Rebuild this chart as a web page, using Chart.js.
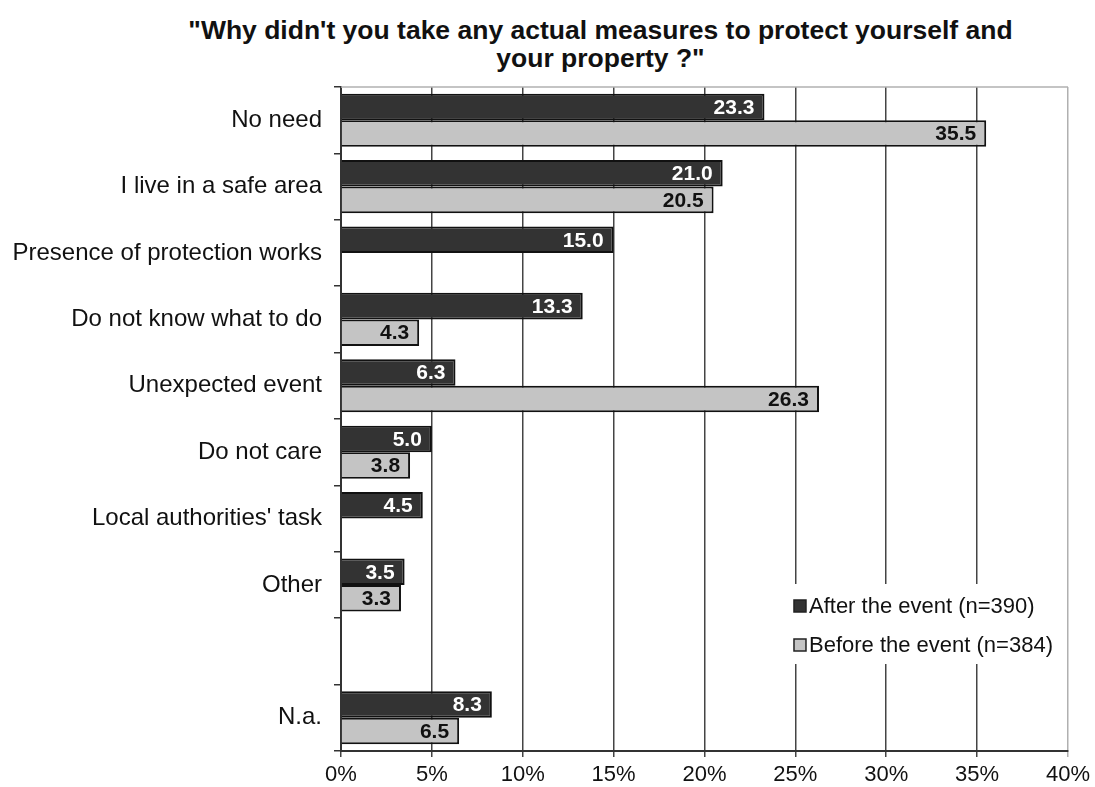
<!DOCTYPE html>
<html lang="en">
<head>
<meta charset="UTF-8"/>
<title>Why didn't you take any actual measures</title>
<script src="https://cdn.jsdelivr.net/npm/chart.js@4.4.3/dist/chart.umd.min.js"></script>
<style>
  *{box-sizing:border-box;margin:0;padding:0}
  body{background:#fff;font-family:'Liberation Sans',Arial,sans-serif}
  .wrap{position:relative;width:1095px;height:787px}
  .title{position:absolute;top:16px;left:106px;right:0;text-align:center;font-weight:bold;font-size:26.5px;line-height:28px;color:#111}
  canvas{position:absolute;left:0;top:0}
</style>
</head>
<body>
<div class="wrap">
  <div class="title">"Why didn't you take any actual measures to protect yourself and<br>your property ?"</div>
  <canvas id="c" width="1095" height="787"></canvas>
</div>
<script>
// ─── Data ─────────────────────────────────────────────────────────────────────
const categories = [
  'No need',
  'I live in a safe area',
  'Presence of protection works',
  'Do not know what to do',
  'Unexpected event',
  'Do not care',
  "Local authorities' task",
  'Other',
  '',
  'N.a.',
];
const afterEvent  = [23.3, 21.0, 15.0, 13.3, 6.3, 5.0, 4.5, 3.5, null, 8.3];
const beforeEvent = [35.5, 20.5, null, 4.3, 26.3, 3.8, null, 3.3, null, 6.5];
const seriesNames = ['After the event (n=390)', 'Before the event (n=384)'];
const xTicks = [0, 5, 10, 15, 20, 25, 30, 35, 40];

const FONT = "'Liberation Sans', Arial, sans-serif";
const DARK = '#333333', LIGHT = '#c4c4c4';

// ─── Value labels at bar end ──────────────────────────────────────────────────
const barLabels = {
  id: 'barLabels',
  afterDatasetsDraw(chart) {
    const ctx = chart.ctx;
    ctx.save();
    ctx.font = 'bold 21px ' + FONT;
    ctx.textAlign = 'right';
    ctx.textBaseline = 'middle';
    chart.data.datasets.forEach((ds, i) => {
      ctx.fillStyle = i === 0 ? '#fff' : '#111';
      chart.getDatasetMeta(i).data.forEach((bar, j) => {
        const v = ds.data[j];
        if (v == null) return;
        ctx.fillText(v.toFixed(1), bar.x - 10, bar.y + 1);
      });
    });
    ctx.restore();
  }
};

// ─── Light frame on top + legend box inside plot ──────────────────────────────
const frameAndLegend = {
  id: 'frameAndLegend',
  beforeDatasetsDraw(chart) {
    const { ctx, chartArea: a } = chart;
    ctx.save();
    ctx.strokeStyle = '#b0b0b0';
    ctx.lineWidth = 1.5;
    ctx.beginPath();
    ctx.moveTo(a.left, a.top);
    ctx.lineTo(a.right, a.top);
    ctx.stroke();
    ctx.restore();
  },
  afterDraw(chart) {
    const { ctx, chartArea: a } = chart;
    const x0 = a.right - 283, y0 = a.bottom - 167;
    ctx.save();
    ctx.fillStyle = '#fff';
    ctx.fillRect(x0, y0, 278, 80);
    ctx.font = '22px ' + FONT;
    ctx.textBaseline = 'middle';
    chart.data.datasets.forEach((ds, i) => {
      const y = y0 + 22 + i * 39;
      ctx.fillStyle = ds.backgroundColor;
      ctx.fillRect(x0 + 9, y - 6, 12, 12);
      ctx.strokeStyle = '#222';
      ctx.lineWidth = 1.5;
      ctx.strokeRect(x0 + 9, y - 6, 12, 12);
      ctx.fillStyle = '#111';
      ctx.fillText(ds.label, x0 + 24, y + 1);
    });
    ctx.restore();
  }
};

new Chart(document.getElementById('c'), {
  type: 'bar',
  data: {
    labels: categories,
    datasets: [
      { label: seriesNames[0], data: afterEvent,  backgroundColor: DARK,  borderColor: '#111', borderWidth: 2 },
      { label: seriesNames[1], data: beforeEvent, backgroundColor: LIGHT, borderColor: '#111', borderWidth: 2 },
    ]
  },
  options: {
    indexAxis: 'y',
    responsive: false,
    animation: false,
    events: [],
    categoryPercentage: 0.8,
    barPercentage: 1.0,
    layout: { padding: { top: 87, right: 22, bottom: 0, left: 0 } },
    plugins: { legend: { display: false }, title: { display: false }, tooltip: { enabled: false } },
    scales: {
      x: {
        min: 0, max: 40,
        afterBuildTicks: s => { s.ticks = xTicks.map(v => ({ value: v })); },
        afterFit: s => { s.height = 36; },
        grid: {
          color: c => (c.tick && c.tick.value === 40 ? '#b0b0b0' : '#444'),
          lineWidth: 1.5,
          tickLength: 6,
        },
        border: { color: '#333', width: 2 },
        ticks: {
          callback: v => v + '%',
          font: { family: FONT, size: 22 },
          color: '#111',
          padding: 5,
          maxRotation: 0,
        },
      },
      y: {
        afterFit: s => { s.width = 341; },
        grid: { offset: true, drawOnChartArea: false, drawTicks: true, tickLength: 7, color: '#333', lineWidth: 1.5 },
        border: { color: '#333', width: 2 },
        ticks: { font: { family: FONT, size: 24 }, color: '#111', padding: 12, autoSkip: false },
      }
    }
  },
  plugins: [barLabels, frameAndLegend]
});
</script>
</body>
</html>
